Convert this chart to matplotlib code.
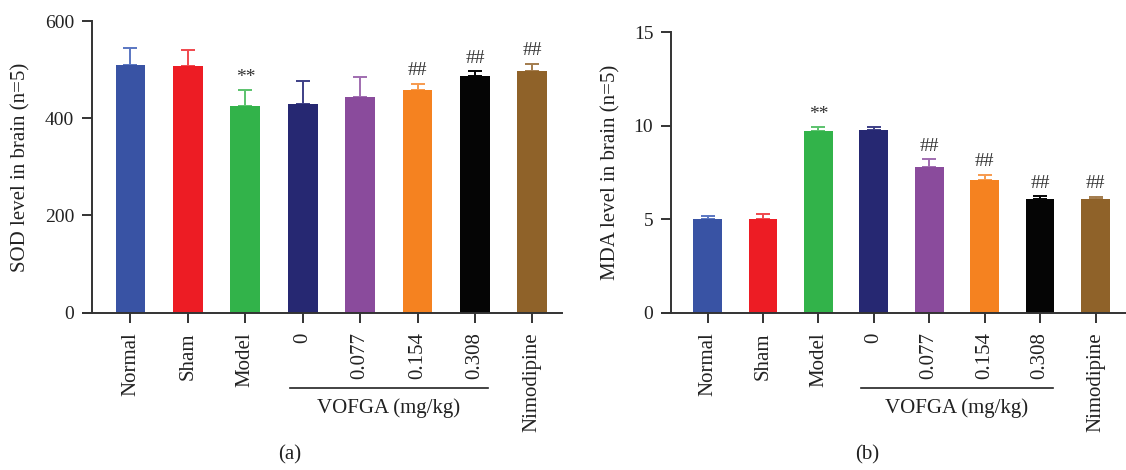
import matplotlib
matplotlib.use("Agg")
import matplotlib.pyplot as plt
import matplotlib.transforms as mtransforms

plt.rcParams['font.family'] = ['Liberation Serif', 'DejaVu Serif']

categories = ["Normal", "Sham", "Model", "0", "0.077", "0.154", "0.308", "Nimodipine"]
colors = ["#3953A4", "#ED1C24", "#32B34A", "#262872", "#8A4B9C", "#F58220", "#050505", "#8F6229"]
err_colors = ["#5A76C2", "#F0474D", "#5BC26D", "#3D3F86", "#A06CB0", "#F79A4D", "#050505", "#A37C4D"]

sod_mean = [510, 507, 426, 430, 443, 459, 486, 497]
sod_err = [34, 34, 32, 46, 42, 12, 11, 15]
sod_marks = ["", "", "**", "", "", "##", "##", "##"]

mda_mean = [4.99, 5.00, 9.69, 9.75, 7.77, 7.08, 6.06, 6.06]
mda_err = [0.18, 0.29, 0.24, 0.18, 0.44, 0.30, 0.18, 0.14]
mda_marks = ["", "", "**", "", "##", "##", "##", "##"]

group_label = "VOFGA (mg/kg)"

fig = plt.figure(figsize=(11.26, 4.70), dpi=100)
axA = fig.add_axes([0.0733, 0.3347, 0.426, 0.6206])
axB = fig.add_axes([0.5875, 0.3347, 0.4125, 0.597])

spine_col = "#333333"
txt_col = "#222222"


def frac_of(ax, ypix):
    bb = ax.get_position()
    y_fig = 1 - ypix / 470
    return (y_fig - bb.y0) / bb.height


def draw(ax, means, errs, marks, ylim, yticks, xlim, spine_x, panel, ylabel, ylab_x, ylab_y, panel_x):
    x = list(range(len(categories)))
    for s in ['top', 'right']:
        ax.spines[s].set_visible(False)
    ax.spines['left'].set_position(('data', spine_x))
    ax.bar(x, means, width=0.52, color=colors, zorder=2)
    for xi, m, e, ec in zip(x, means, errs, err_colors):
        ax.errorbar([xi], [m], yerr=[[0], [e]], fmt='none', ecolor=ec,
                    elinewidth=1.4, capsize=4.8, capthick=1.4, zorder=1)
    for xi, m, e, t in zip(x, means, errs, marks):
        if t:
            ax.annotate(t, xy=(xi, m + e), xytext=(0, 6), textcoords='offset points',
                        ha='center', va='baseline', fontsize=14, color="#333333")
    ax.set_xlim(*xlim)
    ax.set_ylim(*ylim)
    ax.set_yticks(yticks)
    ax.set_yticklabels([str(v) for v in yticks])
    ax.set_xticks(x)
    ax.set_xticklabels(categories, rotation=90, va='top', ha='center')
    for s in ['left', 'bottom']:
        ax.spines[s].set_color(spine_col)
        ax.spines[s].set_linewidth(1.4)
    ax.tick_params(axis='x', length=7, width=1.4, color=spine_col, pad=7,
                   labelsize=15, labelcolor=txt_col)
    ax.tick_params(axis='y', length=7, width=1.4, color=spine_col, pad=6,
                   labelsize=14, labelcolor=txt_col)
    trans = mtransforms.blended_transform_factory(ax.transData, ax.transAxes)
    yl = frac_of(ax, 388)
    ax.plot([2.77, 6.23], [yl, yl], transform=trans, color=txt_col, lw=1.2, clip_on=False)
    ax.text(4.5, frac_of(ax, 408), group_label, transform=trans, ha='center', va='center',
            fontsize=15, color=txt_col)
    fig.text(ylab_x, ylab_y, ylabel, rotation=90, ha='center', va='center', fontsize=15, color=txt_col)
    fig.text(panel_x, 1 - 455 / 470, panel, ha='center', va='center', fontsize=15, color=txt_col)


draw(axA, sod_mean, sod_err, sod_marks, (0, 600), [0, 200, 400, 600], (-0.835, 7.52), -0.667,
     "(a)", "SOD level in brain (n=5)", 20.5 / 1126, 1 - 167 / 470, 290 / 1126)
draw(axB, mda_mean, mda_err, mda_marks, (0, 15), [0, 5, 10, 15], (-0.83, 7.55), -0.653,
     "(b)", "MDA level in brain (n=5)", 611 / 1126, 1 - 172 / 470, 866.7 / 1126)

fig.savefig("out.png", dpi=100)
